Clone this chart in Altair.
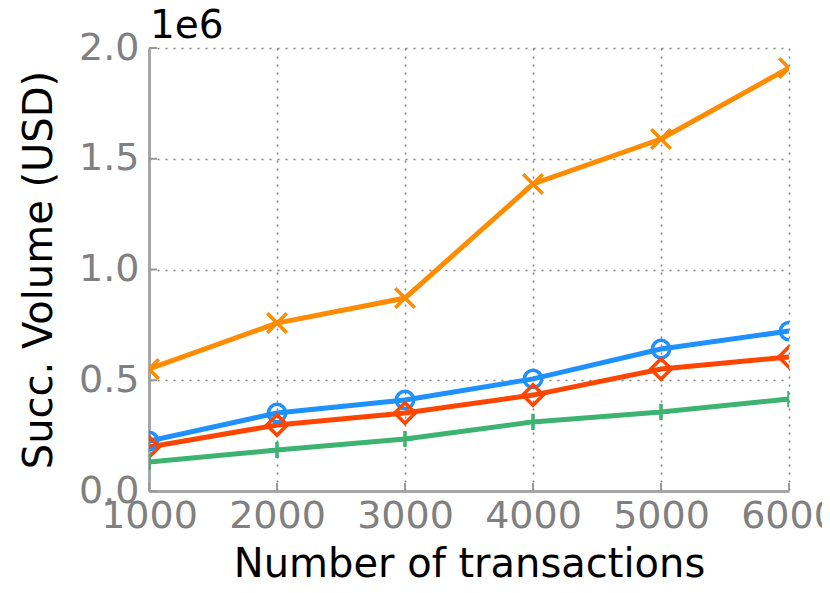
import altair as alt
import pandas as pd

# ---- data ----
x_vals = [1000, 2000, 3000, 4000, 5000, 6000]
series_names = ["Series A", "Series B", "Series C", "Series D"]
series_colors = ["#FF8C00", "#1E90FF", "#FF4500", "#3CB371"]
vol_a = [551000, 758000, 871000, 1386000, 1589000, 1910000]
vol_b = [226000, 352000, 411000, 506000, 641000, 722000]
vol_c = [199000, 298000, 352000, 433000, 551000, 605000]
vol_d = [131000, 185000, 235000, 312000, 357000, 415000]
y_ticks = [0, 500000, 1000000, 1500000, 2000000]

X_PATH = "M-1,-1L1,1M-1,1L1,-1"
PLUS_PATH = "M-1,0L1,0M0,-1L0,1"
series_shapes = [X_PATH, "circle", "diamond", PLUS_PATH]
series_sizes = [380, 300, 420, 260]

all_vals = [vol_a, vol_b, vol_c, vol_d]
rows = []
for name, vals in zip(series_names, all_vals):
    for x, v in zip(x_vals, vals):
        rows.append({"n": x, "vol": v, "series": name})
df = pd.DataFrame(rows)

FONT = "DejaVu Sans"

xs = alt.Scale(domain=[1000, 6000], nice=False, zero=False)
ys = alt.Scale(domain=[0, 2000000], nice=False)
color = alt.Color("series:N", scale=alt.Scale(domain=series_names, range=series_colors), legend=None)

x_axis = alt.Axis(values=x_vals, title="Number of transactions", format="d",
                  labelFontSize=38, labelColor="#808080", labelPadding=6,
                  titleFontSize=40, titleColor="black", titleFontWeight="normal",
                  titleY=85, titleBaseline="alphabetic", ticks=False,
                  labelFlush=False, labelOverlap=False)
y_axis = alt.Axis(values=y_ticks, title="Succ. Volume (USD)",
                  labelExpr="format(datum.value/1e6, '.1f')",
                  labelFontSize=38, labelColor="#808080", labelPadding=10,
                  titleFontSize=40, titleColor="black", titleFontWeight="normal",
                  titleX=-110, titleBaseline="middle", ticks=False,
                  labelFlush=False, labelOverlap=False)

lines = alt.Chart(df).mark_line(strokeWidth=5, clip=True).encode(
    x=alt.X("n:Q", scale=xs, axis=x_axis),
    y=alt.Y("vol:Q", scale=ys, axis=y_axis),
    color=color,
    detail="series:N",
)

point_layers = []
for name, col, shp, sz, vals in zip(series_names, series_colors, series_shapes, series_sizes, all_vals):
    d = pd.DataFrame({"n": x_vals, "vol": vals})
    point_layers.append(
        alt.Chart(d).mark_point(filled=False, strokeWidth=3.5, clip=True, opacity=1,
                                shape=shp, size=sz, color=col).encode(
            x=alt.X("n:Q", scale=xs), y=alt.Y("vol:Q", scale=ys))
    )

xt = alt.Chart(pd.DataFrame({"n": x_vals})).mark_rule(color="#999999", strokeWidth=2).encode(
    x=alt.X("n:Q", scale=xs), y=alt.value(443), y2=alt.value(435))
yt = alt.Chart(pd.DataFrame({"vol": y_ticks})).mark_rule(color="#999999", strokeWidth=2).encode(
    y=alt.Y("vol:Q", scale=ys), x=alt.value(0), x2=alt.value(8))

exp = alt.Chart(pd.DataFrame({"t": ["1e6"]})).mark_text(
    align="left", baseline="alphabetic", fontSize=39, font=FONT, color="black"
).encode(x=alt.value(1), y=alt.value(-10), text="t:N")

chart = alt.layer(xt, yt, lines, *point_layers, exp).properties(
    width=640, height=443,
    autosize=alt.AutoSizeParams(type="none"),
    padding={"left": 141, "top": 40, "right": 33, "bottom": 89},
).configure_view(stroke=None).configure_axis(
    labelFont=FONT, titleFont=FONT,
    domainColor="#A6A6A6", domainWidth=3,
    grid=True, gridColor="#808080", gridDash=[2, 6], gridWidth=1.5,
)

chart.save("out.html", embed_options={"renderer": "svg", "actions": False})
